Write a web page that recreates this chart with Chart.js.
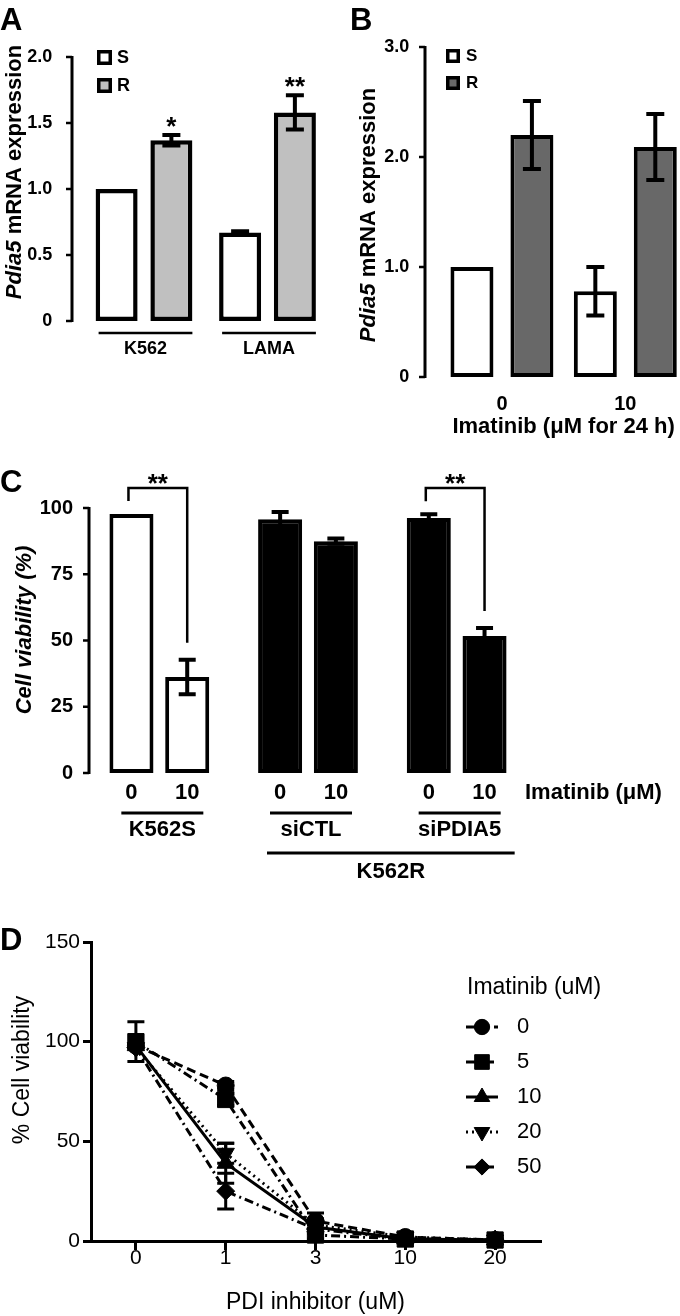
<!DOCTYPE html>
<html>
<head>
<meta charset="utf-8">
<script src="https://cdn.jsdelivr.net/npm/chart.js@4.4.1/dist/chart.umd.min.js"></script>
<style>
html, body { margin: 0; padding: 0; background: #fff; width: 680px; height: 1316px; overflow: hidden; }
canvas { position: absolute; }
</style>
</head>
<body>
<canvas id="chartA" width="340" height="395" style="left:0;top:0"></canvas>
<canvas id="chartB" width="350" height="440" style="left:340px;top:0"></canvas>
<canvas id="chartC" width="680" height="450" style="left:0;top:440px"></canvas>
<canvas id="chartD" width="680" height="426" style="left:0;top:890px"></canvas>
<script>
const FONT = '"Liberation Sans", Arial, Helvetica, sans-serif'

// panel A - Pdia5 expression, sensitive vs resistant lines
const groupsA = ['K562', 'LAMA']
const sensA = [1.0, 0.67]
const sensErrA = [0, 0.01]
const resA = [1.37, 1.58]
const resErrA = [0.04, 0.13]
const starsA = ['*', '**']

// panel B - Pdia5 expression after imatinib
const doseB = ['0', '10']
const sensB = [1.0, 0.78]
const sensErrB = [0, 0.22]
const resB = [2.2, 2.09]
const resErrB = [0.31, 0.30]

// panel C - viability with siRNA
const groupsC = ['K562S', 'siCTL', 'siPDIA5']
const doseC = ['0', '10']
const noDrugC = [97.7, 95.8, 96.2]
const noDrugErrC = [0, 2.7, 1.4]
const drugC = [36.2, 87.5, 51.7]
const drugErrC = [6.5, 1.0, 3.0]
const sigGroupsC = [0, 2]
const sigLabelC = '**'

// panel D - PDI inhibitor dose response
const pdiD = ['0', '1', '3', '10', '20']
const imatinibD = ['0', '5', '10', '20', '50']
const via0 = [98, 78, 10, 2, 0.5]
const via5 = [100, 71, 3, 1, 0.5]
const via10 = [98, 39, 7, 1, 0.5]
const via20 = [97, 44, 8, 2, 0.5]
const via50 = [97, 25, 6, 1, 0.5]
const err0 = [0, 2, 4, 1, 0]
const err5 = [10, 3, 2, 1, 0]
const err10 = [0, 10, 3, 1, 0]
const err20 = [0, 5, 3, 1, 0]
const err50 = [0, 9, 2, 1, 0]

Chart.defaults.font.family = FONT
Chart.defaults.color = '#000'
Chart.defaults.animation = false
Chart.defaults.responsive = false
Chart.defaults.plugins.legend.display = false
Chart.defaults.plugins.tooltip.enabled = false

// ---------- drawing helpers

function drawText(ctx, s, x, y, font, align, baseline) {
    ctx.save()
    ctx.font = font
    ctx.fillStyle = '#000'
    ctx.textAlign = align || 'left'
    ctx.textBaseline = baseline || 'middle'
    ctx.fillText(s, x, y)
    ctx.restore()
}

// rotated axis title, parts = [[text, font], ...], baseline at x, centered on yc
function drawVTitle(ctx, parts, x, yc) {
    ctx.save()
    ctx.translate(x, yc)
    ctx.rotate(-Math.PI / 2)
    ctx.fillStyle = '#000'
    ctx.textBaseline = 'alphabetic'
    ctx.textAlign = 'left'
    let total = 0
    parts.forEach(p => { ctx.font = p[1]; total += ctx.measureText(p[0]).width })
    let cx = -total / 2
    parts.forEach(p => {
        ctx.font = p[1]
        ctx.fillText(p[0], cx, 0)
        cx += ctx.measureText(p[0]).width
    })
    ctx.restore()
}

function hLine(ctx, x0, x1, y, lw) {
    ctx.save()
    ctx.strokeStyle = '#000'
    ctx.lineWidth = lw
    ctx.beginPath()
    ctx.moveTo(x0, y)
    ctx.lineTo(x1, y)
    ctx.stroke()
    ctx.restore()
}

// y axis line + outside ticks, drawn a bit left of the bars
function drawYAxisLine(chart, x) {
    const ctx = chart.ctx, ys = chart.scales.y
    ctx.save()
    ctx.strokeStyle = '#000'
    ctx.lineWidth = 3
    ctx.beginPath()
    ctx.moveTo(x, ys.top - 1)
    ctx.lineTo(x, ys.bottom + 1)
    ctx.stroke()
    ctx.lineWidth = 2.5
    ys.ticks.forEach(t => {
        const py = ys.getPixelForValue(t.value)
        ctx.beginPath()
        ctx.moveTo(x - 6, py)
        ctx.lineTo(x, py)
        ctx.stroke()
    })
    ctx.restore()
}

function drawErrors(chart, dsIndex, errs, cap, lw) {
    const ctx = chart.ctx, ys = chart.scales.y
    const vals = chart.data.datasets[dsIndex].data
    ctx.save()
    ctx.strokeStyle = '#000'
    ctx.lineWidth = lw
    chart.getDatasetMeta(dsIndex).data.forEach((el, i) => {
        if (!errs[i]) return
        const top = ys.getPixelForValue(vals[i] + errs[i])
        const bot = ys.getPixelForValue(vals[i] - errs[i])
        ctx.beginPath()
        ctx.moveTo(el.x, top); ctx.lineTo(el.x, bot)
        ctx.moveTo(el.x - cap / 2, top); ctx.lineTo(el.x + cap / 2, top)
        ctx.moveTo(el.x - cap / 2, bot); ctx.lineTo(el.x + cap / 2, bot)
        ctx.stroke()
    })
    ctx.restore()
}

function drawBox(ctx, x, y, size, fill, lw) {
    ctx.save()
    ctx.fillStyle = fill
    ctx.fillRect(x, y, size, size)
    ctx.strokeStyle = '#000'
    ctx.lineWidth = lw
    ctx.strokeRect(x + lw / 2, y + lw / 2, size - lw, size - lw)
    ctx.restore()
}

const bold = px => `bold ${px}px ${FONT}`
const plain = px => `${px}px ${FONT}`
const fmt1 = v => (v === 0 ? '0' : v.toFixed(1))

// ---------- panel A

const panelA = {
    id: 'panelA',
    afterDraw(chart) {
        const ctx = chart.ctx, area = chart.chartArea, ys = chart.scales.y
        const s = chart.getDatasetMeta(0).data, r = chart.getDatasetMeta(1).data
        drawText(ctx, 'A', 0, 30, bold(31), 'left', 'alphabetic')
        drawVTitle(ctx, [['Pdia5', `italic ${bold(22)}`], [' mRNA expression', bold(22)]], 21, 172)
        drawYAxisLine(chart, 72)
        drawErrors(chart, 0, sensErrA, 18, 4)
        drawErrors(chart, 1, resErrA, 18, 4)
        r.forEach((el, i) => {
            const y = ys.getPixelForValue(resA[i] + resErrA[i])
            drawText(ctx, starsA[i], el.x, y, bold(26), 'center', 'alphabetic')
        })
        // legend
        drawBox(ctx, 97, 50, 15, chart.data.datasets[0].backgroundColor, 3.5)
        drawBox(ctx, 97, 78, 15, chart.data.datasets[1].backgroundColor, 3.5)
        drawText(ctx, 'S', 117, 58, bold(18))
        drawText(ctx, 'R', 117, 86, bold(18))
        // cell lines under bars
        s.forEach((el, i) => {
            const x0 = el.x - el.width / 2 + 3, x1 = r[i].x + r[i].width / 2
            hLine(ctx, x0, x1, area.bottom + 12, 2.5)
            drawText(ctx, groupsA[i], (x0 + x1) / 2, area.bottom + 28, bold(18), 'center')
        })
    }
}

new Chart(document.getElementById('chartA'), {
    type: 'bar',
    data: {
        labels: groupsA,
        datasets: [
            { label: 'S', data: sensA, backgroundColor: '#ffffff' },
            { label: 'R', data: resA, backgroundColor: '#c0c0c0' }
        ]
    },
    options: {
        layout: { padding: { top: 57, right: 10.75, bottom: 74, left: 0 } },
        datasets: { bar: { borderColor: '#000', borderWidth: 4.5, borderSkipped: false, categoryPercentage: 0.887, barPercentage: 0.767 } },
        scales: {
            x: { display: false },
            y: {
                min: 0, max: 2,
                afterFit: sc => { sc.width = 82.25 },
                grid: { display: false },
                border: { display: false },
                ticks: { stepSize: 0.5, padding: 22, font: { size: 18, weight: 'bold' }, callback: fmt1 }
            }
        }
    },
    plugins: [panelA]
})

// ---------- panel B

const panelB = {
    id: 'panelB',
    afterDraw(chart) {
        const ctx = chart.ctx
        drawText(ctx, 'B', 10, 30, bold(31), 'left', 'alphabetic')
        drawVTitle(ctx, [['Pdia5', `italic ${bold(22)}`], [' mRNA expression', bold(22)]], 35, 215)
        drawYAxisLine(chart, 85)
        drawErrors(chart, 0, sensErrB, 18, 4)
        drawErrors(chart, 1, resErrB, 18, 4)
        drawBox(ctx, 106, 49, 14, chart.data.datasets[0].backgroundColor, 3.5)
        drawBox(ctx, 106, 76, 14, chart.data.datasets[1].backgroundColor, 3.5)
        drawText(ctx, 'S', 126, 56, bold(17))
        drawText(ctx, 'R', 126, 83, bold(17))
    }
}

new Chart(document.getElementById('chartB'), {
    type: 'bar',
    data: {
        labels: doseB,
        datasets: [
            { label: 'S', data: sensB, backgroundColor: '#ffffff' },
            { label: 'R', data: resB, backgroundColor: '#686868' }
        ]
    },
    options: {
        layout: { padding: { top: 47, right: 3, bottom: 0, left: 0 } },
        datasets: { bar: { borderColor: '#000', borderWidth: 4, borderSkipped: false, categoryPercentage: 0.972, barPercentage: 0.717 } },
        scales: {
            x: {
                afterFit: sc => { sc.height = 63 },
                grid: { display: false },
                border: { display: false },
                ticks: { padding: 7, font: { size: 20, weight: 'bold' } },
                title: { display: true, text: 'Imatinib (μM for 24 h)', font: { size: 22, weight: 'bold' }, padding: 0 }
            },
            y: {
                min: 0, max: 3,
                afterFit: sc => { sc.width = 100.25 },
                grid: { display: false },
                border: { display: false },
                ticks: { stepSize: 1, padding: 23, font: { size: 18, weight: 'bold' }, callback: fmt1 }
            }
        }
    },
    plugins: [panelB]
})

// ---------- panel C

const panelC = {
    id: 'panelC',
    afterDraw(chart) {
        const ctx = chart.ctx, area = chart.chartArea, ys = chart.scales.y
        const m0 = chart.getDatasetMeta(0).data, m1 = chart.getDatasetMeta(1).data
        drawText(ctx, 'C', 0, 52, bold(31), 'left', 'alphabetic')
        drawVTitle(ctx, [['Cell viability (%)', `italic ${bold(22)}`]], 31, 190)
        drawYAxisLine(chart, 89)
        drawErrors(chart, 0, noDrugErrC, 17, 4)
        drawErrors(chart, 1, drugErrC, 17, 4)

        // imatinib dose under each bar
        ;[m0, m1].forEach((meta, d) => {
            meta.forEach(el => drawText(ctx, doseC[d], el.x, area.bottom + 20, bold(22), 'center'))
        })
        drawText(ctx, 'Imatinib (μM)', 525, area.bottom + 20, bold(22))

        // groups
        const centers = m0.map((el, i) => (el.x + m1[i].x) / 2 + 3)
        centers.forEach((c, i) => {
            hLine(ctx, c - 41, c + 41, area.bottom + 40, 3)
            drawText(ctx, groupsC[i], c, area.bottom + 57, bold(22), 'center')
        })
        const r0 = centers[1] - 44, r1 = centers[2] + 55
        hLine(ctx, r0, r1, area.bottom + 80, 3)
        drawText(ctx, 'K562R', (r0 + r1) / 2, area.bottom + 99, bold(22), 'center')

        // significance brackets
        ctx.save()
        ctx.strokeStyle = '#000'
        ctx.lineWidth = 2.5
        sigGroupsC.forEach(g => {
            const xl = m0[g].x - 3, xr = m1[g].x
            const yt = area.top - 20
            const yl = ys.getPixelForValue(noDrugC[g] + noDrugErrC[g]) - 13
            const yr = ys.getPixelForValue(drugC[g] + drugErrC[g]) - 17
            ctx.beginPath()
            ctx.moveTo(xl, yl); ctx.lineTo(xl, yt); ctx.lineTo(xr, yt); ctx.lineTo(xr, yr)
            ctx.stroke()
            drawText(ctx, sigLabelC, (xl + xr) / 2, yt + 4, bold(26), 'center', 'alphabetic')
        })
        ctx.restore()
    }
}

const colorsC = ['#ffffff', '#000000', '#000000']

new Chart(document.getElementById('chartC'), {
    type: 'bar',
    data: {
        labels: groupsC,
        datasets: [
            { label: doseC[0], data: noDrugC, backgroundColor: colorsC },
            { label: doseC[1], data: drugC, backgroundColor: colorsC }
        ]
    },
    options: {
        layout: { padding: { top: 68, right: 149, bottom: 117, left: 0 } },
        datasets: { bar: { borderColor: '#000', borderWidth: 4, borderSkipped: false, categoryPercentage: 0.75, barPercentage: 0.79 } },
        scales: {
            x: { display: false },
            y: {
                min: 0, max: 100,
                afterFit: sc => { sc.width = 85 },
                grid: { display: false },
                border: { display: false },
                ticks: { stepSize: 25, padding: 4, font: { size: 20, weight: 'bold' } }
            }
        }
    },
    plugins: [panelC]
})

// ---------- panel D

const errsD = [err0, err5, err10, err20, err50]

const panelD = {
    id: 'panelD',
    afterDraw(chart) {
        const ctx = chart.ctx
        drawText(ctx, 'D', 0, 60, bold(31), 'left', 'alphabetic')
        drawVTitle(ctx, [['% Cell viability', plain(23)]], 28.5, 180)
        errsD.forEach((e, i) => drawErrors(chart, i, e, 17, 3))

        // legend
        drawText(ctx, 'Imatinib (uM)', 467, 98, plain(23))
        chart.data.datasets.forEach((ds, i) => {
            const y = 137 + 35 * i
            ctx.save()
            ctx.strokeStyle = '#000'
            ctx.fillStyle = '#000'
            ctx.lineWidth = ds.borderWidth
            ctx.setLineDash(ds.borderDash)
            ctx.beginPath()
            ctx.moveTo(466, y)
            ctx.lineTo(498, y)
            ctx.stroke()
            ctx.setLineDash([])
            ctx.lineWidth = 1
            Chart.helpers.drawPoint(ctx, { pointStyle: ds.pointStyle, rotation: ds.pointRotation, radius: ds.pointRadius * 0.9, borderWidth: 1 }, 482, y)
            ctx.restore()
            drawText(ctx, imatinibD[i], 517, y, plain(22))
        })
    }
}

const lineD = (label, data, pointStyle, radius, rotation, dash, order) => ({
    label, data, pointStyle, order,
    pointRadius: radius,
    pointRotation: rotation,
    borderDash: dash,
    borderWidth: 3,
    borderColor: '#000',
    backgroundColor: '#000',
    pointBackgroundColor: '#000',
    pointBorderColor: '#000',
    pointBorderWidth: 1,
    tension: 0,
    clip: false
})

new Chart(document.getElementById('chartD'), {
    type: 'line',
    data: {
        labels: pdiD,
        datasets: [
            lineD(imatinibD[0], via0, 'circle', 8.5, 0, [9, 5], 1),
            lineD(imatinibD[1], via5, 'rect', 11.5, 0, [9, 4, 2, 4], 0),
            lineD(imatinibD[2], via10, 'triangle', 10, 0, [], 1),
            lineD(imatinibD[3], via20, 'triangle', 10, 180, [2, 4], 1),
            lineD(imatinibD[4], via50, 'rectRot', 9, 0, [9, 4, 2, 4], 1)
        ]
    },
    options: {
        layout: { padding: { top: 52, right: 140, bottom: 0, left: 0 } },
        scales: {
            x: {
                offset: true,
                afterFit: sc => { sc.height = 75 },
                grid: { display: true, drawOnChartArea: false, tickLength: 9, lineWidth: 3, color: '#000' },
                border: { display: true, width: 3, color: '#000' },
                ticks: { padding: -4, font: { size: 21 } },
                title: { display: true, text: 'PDI inhibitor (uM)', font: { size: 23 }, padding: 0 }
            },
            y: {
                min: 0, max: 150,
                afterFit: sc => { sc.width = 91 },
                grid: { display: true, drawOnChartArea: false, tickLength: 8, lineWidth: 3, color: '#000' },
                border: { display: true, width: 3, color: '#000' },
                ticks: { stepSize: 50, padding: 3, font: { size: 21 } }
            }
        }
    },
    plugins: [panelD]
})
</script>
</body>
</html>
